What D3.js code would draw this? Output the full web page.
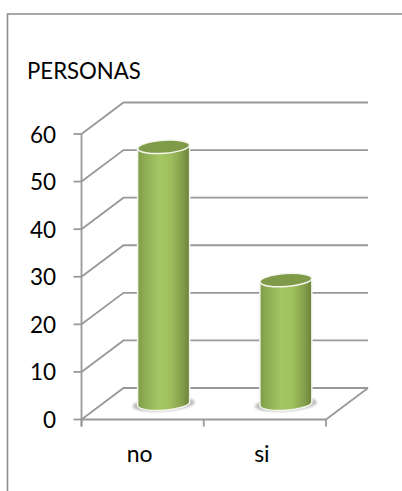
<!DOCTYPE html>
<html><head><meta charset="utf-8">
<script src="https://cdnjs.cloudflare.com/ajax/libs/d3/7.8.5/d3.min.js"></script>
<style>html,body{margin:0;padding:0;background:#fff}svg{display:block}text{font-family:Lato,"Liberation Sans",sans-serif;fill:#000}</style>
</head><body><svg id="c" width="402" height="491"></svg>
<script>
const categories = ["no", "si"];
const values = [54, 26];
const yTicks = [0, 10, 20, 30, 40, 50, 60];
const axisTitle = "PERSONAS";

const W = 402, H = 491;
const front = {x0: 81.5, x1: 326, y0: 419.5, y1: 134};
const depth = {dx: 42, dy: -31.5};
const grey = "#999999";

const svg = d3.select("#c");
const x = d3.scaleBand().domain(categories).range([front.x0, front.x1]);
const y = d3.scaleLinear().domain([0, 60]).range([front.y0, front.y1]);

const defs = svg.append("defs");
const grad = defs.append("linearGradient").attr("id", "cyl");
[[0, "#7d9a48"], [0.12, "#8dab52"], [0.42, "#a4c663"], [0.62, "#a0c05e"], [0.85, "#85a04c"], [1, "#6a8239"]]
  .forEach(([o, c]) => grad.append("stop").attr("offset", o).attr("stop-color", c));
defs.append("filter").attr("id", "blur").append("feGaussianBlur").attr("stdDeviation", 1);

// Outer frame
svg.append("path").attr("d", `M7.5 ${H}V14H${W}`).attr("fill", "none").attr("stroke", "#8c8c8c").attr("stroke-width", 1.6);

const line = (g, pts) => g.append("path").attr("d", d3.line()(pts)).attr("fill", "none")
  .attr("stroke", grey).attr("stroke-width", 1.8);

// Gridlines on side and back walls
const grid = svg.append("g");
yTicks.forEach(t => {
  const yy = y(t);
  line(grid, [[front.x0, yy], [front.x0 + depth.dx, yy + depth.dy], [front.x1 + depth.dx, yy + depth.dy]]);
});
// Floor edges
line(grid, [[front.x1 + depth.dx, front.y0 + depth.dy], [front.x1, front.y0]]);

// Axes
const ax = svg.append("g");
line(ax, [[front.x0, front.y1], [front.x0, front.y0 + 7]]);
line(ax, [[front.x0, front.y0], [front.x1, front.y0]]);
yTicks.forEach(t => line(ax, [[front.x0 - 8, y(t)], [front.x0, y(t)]]));
[...categories.map(c => x(c)), front.x1].forEach(v => line(ax, [[v, front.y0], [v, front.y0 + 7]]));

svg.append("g").selectAll("text").data(yTicks).join("text")
  .attr("x", 56).attr("y", d => y(d) + 8.5).attr("text-anchor", "end")
  .attr("font-size", 22.5).text(d => d);

svg.append("g").selectAll("text").data(categories).join("text")
  .attr("x", d => x(d) + x.bandwidth() / 2 - 3).attr("y", 462).attr("text-anchor", "middle")
  .attr("font-size", 23).text(d => d);

svg.append("text").attr("x", 27).attr("y", 79).attr("font-size", 22.2).text(axisTitle);

// Cylinders
const rx = 26, ry = 6.5, tilt = -4;
const bars = svg.append("g").selectAll("g").data(categories.map((c, i) => ({c, v: values[i]}))).join("g");
bars.each(function (d) {
  const g = d3.select(this);
  const cx = x(d.c) + x.bandwidth() / 2 + depth.dx / 2;
  const base = y(0) + depth.dy / 2;
  const top = y(d.v) + depth.dy / 2;
  const s = Math.sin(tilt * Math.PI / 180) * rx;
  g.append("ellipse").attr("cx", cx).attr("cy", base + 0.5).attr("rx", rx + 5).attr("ry", ry + 0.5)
    .attr("transform", `rotate(${tilt} ${cx} ${base})`).attr("fill", "#bdbdbd").attr("filter", "url(#blur)");
  g.append("path")
    .attr("d", `M${cx - rx} ${top - s}L${cx - rx} ${base - s}A${rx} ${ry} ${tilt} 0 0 ${cx + rx} ${base + s}L${cx + rx} ${top + s}Z`)
    .attr("fill", "url(#cyl)").attr("stroke", "#f4f6ee").attr("stroke-width", 1.5);
  g.append("ellipse").attr("cx", cx).attr("cy", top).attr("rx", rx).attr("ry", ry)
    .attr("transform", `rotate(${tilt} ${cx} ${top})`).attr("fill", "#7f9a49")
    .attr("stroke", "#f4f6ee").attr("stroke-width", 1.5);
});
</script></body></html>
